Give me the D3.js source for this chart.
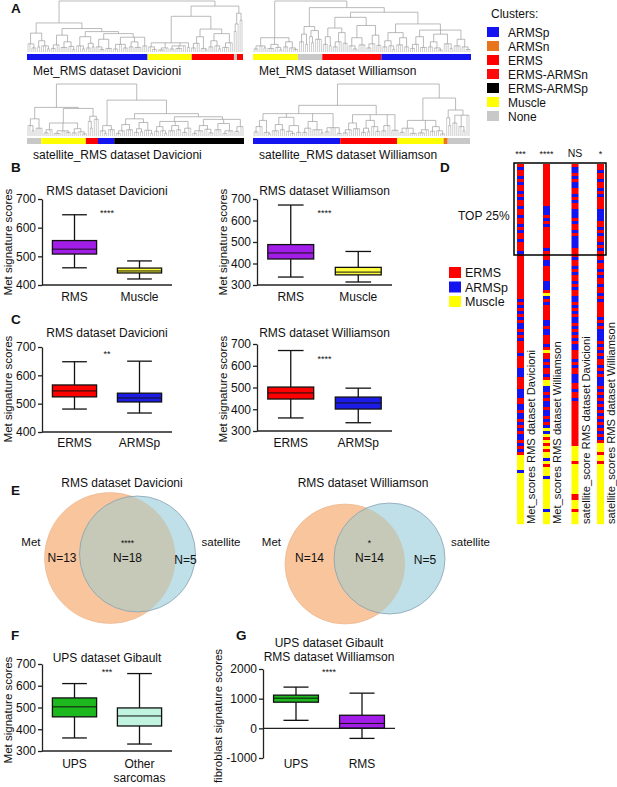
<!DOCTYPE html>
<html>
<head>
<meta charset="utf-8">
<script src="https://cdn.jsdelivr.net/npm/d3@7"></script>
<style>
  body { margin: 0; background: #fff; }
  svg { display: block; }
  text { font-family: "Liberation Sans", Arial, Helvetica, sans-serif; fill: #111; }
</style>
</head>
<body>
<svg id="fig" width="617" height="787"></svg>
<script>
// ---------- data ----------
const clusterNames = ["ARMSp", "ARMSn", "ERMS", "ERMS-ARMSn", "ERMS-ARMSp", "Muscle", "None"];
const clusterColors = ["#1414f0", "#e8741e", "#ff0000", "#ff0a0a", "#000000", "#ffff00", "#c8c8c8"];

// colour bars under the dendrograms: [cluster, number of samples]
const barMetDav = [["ARMSp", 60], ["Muscle", 22], ["ERMS", 21], ["None", 1.5], ["ERMS", 3]];
const barMetWil = [["Muscle", 22], ["None", 12], ["ERMS", 29], ["ARMSp", 44]];
const barSatDav = [["None", 7], ["Muscle", 22], ["ERMS", 6], ["ARMSp", 8], ["ERMS-ARMSp", 64]];
const barSatWil = [["ARMSp", 43], ["ERMS", 28], ["Muscle", 23], ["ARMSn", 2], ["None", 11]];

// dendrograms: [height, ...children]; a number child = that many leaves
const treeMetDav = [1.0,
  [0.57,
    [0.37, [0.16, 2, [0.08, 3]], [0.22, [0.1, 2], [0.12, 3, [0.06, 2]]]],
    [0.46,
      [0.33, [0.14, [0.07, 3], 2], [0.2, [0.09, 4], [0.11, 2, [0.05, 2]]]],
      [0.4,
        [0.3, [0.12, 3, [0.06, 2]], [0.17, [0.08, 3], [0.1, 2]]],
        [0.36,
          [0.25, [0.1, 2, [0.05, 3]], [0.13, [0.07, 4]]],
          [0.29, [0.15, [0.06, 3], 2, [0.08, 3]], [0.2, [0.1, 3], [0.09, 4]], [0.12, 3]]]]]],
  [0.9,
    [0.7,
      [0.18, [0.1, 2, [0.05, 3]], [0.08, [0.04, 4], 2], [0.12, [0.06, 3], [0.07, 4], 2], [0.09, 2]],
      [0.45,
        [0.3, [0.17, [0.08, 3], 2], [0.15, [0.07, 2, [0.04, 2]]]],
        [0.36, [0.22, [0.1, 3], [0.12, 2, [0.06, 2]]], [0.18, [0.09, 4], 2]]]],
    [0.76, [0.55, [0.4, 1, 1], 1], [0.62, 1, 1]]]];

const treeMetWil = [1.0,
  [0.28, [0.12, [0.06, 3], 2, [0.08, 2]], [0.15, [0.07, 4], [0.09, 2, [0.04, 2]]], [0.2, [0.1, 3], [0.08, 2, [0.05, 3]]]],
  [0.87,
    [0.5, [0.35, [0.2, 2, 1], [0.15, 2]], [0.42, [0.3, 1, [0.18, 2]], [0.25, 2, 2]]],
    [0.78,
      [0.68,
        [0.47, [0.3, [0.15, 3], [0.12, 2]], [0.38, [0.2, [0.1, 3], 2], [0.17, 3]]],
        [0.52, [0.28, [0.12, 2, [0.06, 3]], [0.14, 4]], [0.33, [0.16, [0.08, 3], 2], [0.13, 3]]]],
      [0.55,
        [0.38, [0.22, [0.1, 3], [0.12, 2, [0.05, 2]]], [0.28, [0.14, 4], [0.1, 3]]],
        [0.43,
          [0.3, [0.15, [0.07, 3], 2], [0.18, [0.09, 4]]],
          [0.35, [0.2, [0.1, 3], [0.08, 2, [0.04, 3]]], [0.16, 3, [0.07, 2]]],
          [0.25, [0.12, 4], [0.1, 2, [0.05, 3]]]]]]]];

const treeSatDav = [1.0,
  [0.55,
    [0.33, [0.2, 2, [0.1, 2]], [0.15, 3, 1]],
    [0.53,
      [0.25, [0.12, [0.06, 3], 2], [0.1, [0.05, 4], 2, [0.07, 3]], [0.14, [0.06, 3], [0.08, 2, [0.04, 3]]]],
      [0.38, [0.28, 1, [0.15, 2]], [0.32, 2, 1]]]],
  [0.69,
    [0.2, [0.1, 2, [0.05, 2]], [0.12, 3, 1]],
    [0.43,
      [0.33, [0.22, [0.1, [0.05, 3], 2], [0.12, 4]], [0.26, [0.14, [0.07, 3], [0.08, 2]], [0.11, 3, [0.05, 2]]]],
      [0.37,
        [0.28, [0.18, [0.09, 3], [0.1, 2, [0.05, 2]]], [0.2, [0.1, 4], [0.12, 3]], [0.15, [0.07, 3], 2]],
        [0.32, [0.2, [0.1, [0.05, 3], 3], [0.13, 2, [0.06, 3]]], [0.24, [0.12, 4], [0.1, [0.05, 3], 3]], [0.18, [0.09, 3], 2]]]]]];

const treeSatWil = [1.0,
  [0.59,
    [0.43,
      [0.3, [0.18, [0.08, 3], 2], [0.14, [0.07, 2, [0.04, 2]]]],
      [0.36, [0.22, [0.1, 4], [0.12, 3]], [0.2, [0.09, 2, [0.05, 3]], [0.07, 3]]],
      [0.28, [0.15, [0.07, 3], 2], [0.12, 4, [0.06, 2]]],
      [0.16, [0.08, 3], 3, [0.05, 3]]],
    [0.41, [0.25, [0.12, [0.06, 3], 2], [0.14, 4]], [0.3, [0.15, [0.07, 3], [0.08, 2]], [0.18, 2, [0.09, 3]]], [0.2, [0.1, 3], 2], [0.11, 2, 2]]],
  [0.73,
    [0.3, [0.15, [0.07, 3], 2, [0.05, 4]], [0.12, [0.06, 4], 2], [0.18, [0.09, 3], [0.1, 2, [0.04, 3]]]],
    [0.5, [0.35, 1, [0.2, 2]], [0.4, [0.25, 2, 1], [0.18, 2, [0.1, 2]], 2]]]];

// box plots: [min, q1, median, q3, max]
const catsB = ["RMS", "Muscle"];
const statsBDav = [[460, 508, 525, 555, 645], [421, 442, 449, 459, 484]];
const statsBWil = [[337, 421, 449, 488, 672], [314, 347, 360, 382, 456]];
const catsC = ["ERMS", "ARMSp"];
const statsCDav = [[481, 524, 545, 566, 648], [467, 506, 520, 537, 650]];
const statsCWil = [[360, 447, 475, 502, 670], [338, 401, 429, 456, 497]];
const catsF = ["UPS", "Other\nsarcomas"];
const statsF = [[360, 457, 503, 544, 610], [332, 415, 461, 498, 656]];
const catsG = ["UPS", "RMS"];
const statsG = [[270, 881, 1017, 1119, 1390], [-339, 10, 165, 441, 1186]];
const ticks400 = [400, 500, 600, 700];
const ticks300 = [300, 400, 500, 600, 700];
const ticksG = [-1000, 0, 1000, 2000];

// Venn: [Met only, both, satellite only]
const vennDav = [13, 18, 5];
const vennWil = [14, 14, 5];

// D: sample order by score, R = ERMS, B = ARMSp, Y = Muscle
const colMetDav = "RBRRBRBRRBRBRRBRRBRRBRBRRBRRRB" + "RRRRRRRRRRRRRRR" + "BRBRBRBRBB" + "RBRBRRRRBR" +
  "RRRBBBRRRRBBBRR" + "BBRBBRBRBRBBRBRBR" + "YYYYYBYYYYYYYYYYYYYYYYY";
const colMetWil = "RRRRRRRRRRRRRR" + "BBB" + "RBRBR" + "RRRRRR" + "BRRR" + "BBRRRRRBBBRY" + "BRBRRRRR" +
  "BBRBB" + "RRRBRYR" + "RBRBRRBRYY" + "BBRBRBBRBB" + "RBRBYBYRYR" + "YRYYBYRYYYBY" + "YYYYYYYYYBYYYY";
const colSatDav = "RBBRBRBBRRBRBRRBBBRBRRBRBBBBRR" + "RBRRBRBRRBRBRRB" + "BRBRBRBBRBRBRBRBBR" +
  "RRBRBRRBBBRRBRRB" + "RRRRRRRRRRRRRRR" + "YYYYYRYYYYYYYYYYRRYYYRYYYY";
const colSatWil = "RRBRRBRRBRBRRRRBBBBRRBRBRRBRBR" + "RRBRRBRBRRBRRBR" + "BRRRRRBRBRBBBBR" +
  "BRBRBRRBRBRBBBRBRBRB" + "RBRBRBRBRBRBR" + "YYYRYYRYYYYYYYYYYYYYYYYYYYY";
const colStars = ["***", "****", "NS", "*"];
const colLabels = ["Met_scores RMS dataset Davicioni", "Met_scores RMS dataset Williamson",
  "satellite_score RMS dataset Davicioni", "satellite_scores RMS dataset Williamson"];
const dNames = ["ERMS", "ARMSp", "Muscle"];
const dColors = {R: "#ff0000", B: "#1414f0", Y: "#ffff00"};

// ---------- drawing ----------
const svg = d3.select("#fig");
const ink = "#222";

function text(x, y, s, size, anchor, weight) {
  return svg.append("text").attr("x", x).attr("y", y).attr("font-size", size)
    .attr("text-anchor", anchor || "start").attr("font-weight", weight || "normal").text(s);
}
function vtext(x, y, s, size, anchor) {
  return svg.append("text").attr("transform", `translate(${x},${y}) rotate(-90)`)
    .attr("font-size", size).attr("text-anchor", anchor || "middle").text(s);
}

// panel letters
[["A", 11, 13], ["B", 11, 172], ["C", 11, 324], ["D", 440, 172], ["E", 11, 495], ["F", 11, 640], ["G", 236, 640]]
  .forEach(d => text(d[1], d[2], d[0], 13.5, "start", "bold"));

// A: dendrograms
function toNode(a) {
  const kids = [];
  a.slice(1).forEach(c => {
    if (typeof c === "number") for (let i = 0; i < c; i++) kids.push({h: 0});
    else kids.push(toNode(c));
  });
  return {h: a[0], children: kids};
}

function dendrogram(tree, bar, x0, x1, yTop, yBase, label) {
  const root = d3.hierarchy(toNode(tree));
  d3.cluster().size([x1 - x0, 1]).separation(() => 1)(root);
  const y = d3.scaleLinear().domain([0, 1]).range([yBase, yTop]);
  const g = svg.append("g").attr("transform", `translate(${x0},0)`);
  let inner = "", leaves = "";
  root.each(n => {
    if (!n.children) return;
    const xs = n.children.map(c => c.x);
    inner += `M${d3.min(xs)},${y(n.data.h)}H${d3.max(xs)}`;
    n.children.forEach(c => {
      const seg = `M${c.x},${y(n.data.h)}V${y(c.data.h)}`;
      if (c.children) inner += seg; else leaves += seg;
    });
  });
  g.append("path").attr("d", leaves).attr("fill", "none").attr("stroke", "#c2c2c2").attr("stroke-width", 0.8);
  g.append("path").attr("d", inner).attr("fill", "none").attr("stroke", "#9c9c9c").attr("stroke-width", 0.7);

  const total = d3.sum(bar, d => d[1]);
  const bx = d3.scaleLinear().domain([0, total]).range([x0, x1]);
  const col = d3.scaleOrdinal().domain(clusterNames).range(clusterColors);
  let acc = 0;
  bar.forEach(d => {
    svg.append("rect").attr("x", bx(acc)).attr("y", yBase + 2).attr("width", bx(acc + d[1]) - bx(acc))
      .attr("height", 6).attr("fill", col(d[0]));
    acc += d[1];
  });
  text(x0 + 6, yBase + 23, label, 12);
}

dendrogram(treeMetDav, barMetDav, 27, 243, 1, 52, "Met_RMS dataset Davicioni");
dendrogram(treeMetWil, barMetWil, 253, 471, 1, 52, "Met_RMS dataset Williamson");
dendrogram(treeSatDav, barSatDav, 27, 244, 84, 136, "satellite_RMS dataset Davicioni");
dendrogram(treeSatWil, barSatWil, 253, 470, 84, 136, "satellite_RMS dataset Williamson");

// cluster legend
text(491, 18, "Clusters:", 12);
clusterNames.forEach((n, i) => {
  svg.append("rect").attr("x", 487).attr("y", 27 + i * 14).attr("width", 12).attr("height", 10).attr("fill", clusterColors[i]);
  text(508, 36.5 + i * 14, n, 12);
});

// box plots
function boxChart(o) {
  const x = d3.scaleBand().domain(o.cats).range([o.x0, o.x1]);
  const y = d3.scaleLinear().domain(o.domain).range([o.yb, o.yt]);
  const ax = svg.append("g").attr("transform", `translate(${o.x0},0)`)
    .call(d3.axisLeft(y).tickValues(o.ticks).tickSize(4).tickSizeOuter(0).tickPadding(2).tickFormat(d => String(d)));
  ax.select(".domain").attr("stroke", ink).attr("stroke-width", 1.3);
  ax.selectAll(".tick line").attr("stroke", ink).attr("stroke-width", 1.3);
  ax.selectAll(".tick text").attr("font-size", 12).attr("font-family", null).attr("fill", "#111");
  const yx = o.zeroLine ? y(0) : o.yb;
  svg.append("line").attr("x1", o.x0).attr("x2", o.x1).attr("y1", yx).attr("y2", yx)
    .attr("stroke", ink).attr("stroke-width", 1.3);

  const bw = x.bandwidth();
  o.stats.forEach((s, i) => {
    const cx = x(o.cats[i]) + bw / 2, w = bw * 0.68, cw = bw * 0.38;
    const g = svg.append("g").attr("stroke", "#111").attr("stroke-width", 1.3);
    g.append("line").attr("x1", cx).attr("x2", cx).attr("y1", y(s[4])).attr("y2", y(s[3]));
    g.append("line").attr("x1", cx).attr("x2", cx).attr("y1", y(s[1])).attr("y2", y(s[0]));
    g.append("line").attr("x1", cx - cw / 2).attr("x2", cx + cw / 2).attr("y1", y(s[4])).attr("y2", y(s[4]));
    g.append("line").attr("x1", cx - cw / 2).attr("x2", cx + cw / 2).attr("y1", y(s[0])).attr("y2", y(s[0]));
    g.append("rect").attr("x", cx - w / 2).attr("y", y(s[3])).attr("width", w).attr("height", y(s[1]) - y(s[3]))
      .attr("fill", o.colors[i]);
    g.append("line").attr("x1", cx - w / 2).attr("x2", cx + w / 2).attr("y1", y(s[2])).attr("y2", y(s[2]))
      .attr("stroke-width", 1);
    o.cats[i].split("\n").forEach((t, k) => text(cx, o.labelY + k * 14, t, 12, "middle"));
  });
  o.title.forEach((t, k) => text((o.x0 + o.x1) / 2, o.titleY + k * 14, t, 12, "middle"));
  text((o.x0 + o.x1) / 2, o.starY, o.stars, 9, "middle");
  vtext(o.x0 - (o.ylabOff || 30), o.ylabY, o.ylab, 11.5);
}

const purple = "#a21ee8", yellow = "#ffff3c", red = "#ff0000", blue = "#1c1ce6", green = "#1db81d", aqua = "#c0f4e0";

boxChart({x0: 42, x1: 172, yt: 199, yb: 285, domain: [400, 700], ticks: ticks400, cats: catsB, stats: statsBDav,
  colors: [purple, yellow], title: ["RMS dataset Davicioni"], titleY: 195, stars: "****", starY: 216,
  labelY: 301, ylab: "Met signature scores", ylabY: 242});
boxChart({x0: 257, x1: 392, yt: 199, yb: 285, domain: [300, 700], ticks: ticks300, cats: catsB, stats: statsBWil,
  colors: [purple, yellow], title: ["RMS dataset Williamson"], titleY: 195, stars: "****", starY: 216,
  labelY: 301, ylab: "Met signature scores", ylabY: 242});
boxChart({x0: 42, x1: 172, yt: 347, yb: 432, domain: [400, 700], ticks: ticks400, cats: catsC, stats: statsCDav,
  colors: [red, blue], title: ["RMS dataset Davicioni"], titleY: 337, stars: "**", starY: 357,
  labelY: 447, ylab: "Met signature scores", ylabY: 389});
boxChart({x0: 257, x1: 392, yt: 344, yb: 431, domain: [300, 700], ticks: ticks300, cats: catsC, stats: statsCWil,
  colors: [red, blue], title: ["RMS dataset Williamson"], titleY: 337, stars: "****", starY: 362,
  labelY: 447, ylab: "Met signature scores", ylabY: 389});
boxChart({x0: 42, x1: 172, yt: 664, yb: 751, domain: [300, 700], ticks: ticks300, cats: catsF, stats: statsF,
  colors: [green, aqua], title: ["UPS dataset Gibault"], titleY: 662, stars: "***", starY: 675,
  labelY: 768, ylab: "Met signature scores", ylabY: 710});
boxChart({x0: 263, x1: 395, yt: 669, yb: 758, domain: [-1000, 2000], ticks: ticksG, cats: catsG, stats: statsG,
  colors: [green, purple], title: ["UPS dataset Gibault", "RMS dataset Williamson"], titleY: 647, stars: "****", starY: 675,
  labelY: 768, ylab: "fibroblast  signature scores", ylabY: 716, ylabOff: 41, zeroLine: true});

// E: Venn diagrams
const defs = svg.append("defs");
function venn(id, counts, stars, title, a, b, tx) {
  defs.append("clipPath").attr("id", id).append("circle").attr("cx", a[0]).attr("cy", a[1]).attr("r", a[2]);
  svg.append("circle").attr("cx", a[0]).attr("cy", a[1]).attr("r", a[2]).attr("fill", "#f9c59d")
    .attr("stroke", "#eab38a").attr("stroke-width", 0.6);
  svg.append("circle").attr("cx", b[0]).attr("cy", b[1]).attr("r", b[2]).attr("fill", "#bfdfe9");
  svg.append("circle").attr("cx", b[0]).attr("cy", b[1]).attr("r", b[2]).attr("fill", "#c6c8b8")
    .attr("clip-path", `url(#${id})`);
  svg.append("circle").attr("cx", b[0]).attr("cy", b[1]).attr("r", b[2]).attr("fill", "none")
    .attr("stroke", "#7e9aa8").attr("stroke-width", 0.7);
  text(tx, 487, title, 12, "middle");
  text(a[0] - a[2] - 4, 546, "Met", 11.5, "end");
  text(b[0] + b[2] + 6, 546, "satellite", 11.5, "start");
  const leftX = (a[0] - a[2] + b[0] - b[2]) / 2, midX = (b[0] - b[2] + a[0] + a[2]) / 2, rightX = (a[0] + a[2] + b[0] + b[2]) / 2;
  text(leftX, 562, "N=" + counts[0], 12, "middle");
  text(midX, 562, "N=" + counts[1], 12, "middle");
  text(rightX, 564, "N=" + counts[2], 12, "middle");
  text(midX, 546, stars, 8.5, "middle");
}
venn("clipDav", vennDav, "****", "RMS dataset Davicioni", [110, 558, 65.5], [137.5, 554, 58], 122);
venn("clipWil", vennWil, "*", "RMS dataset Williamson", [345, 564, 60], [389.5, 558.5, 55.5], 363);

// D: ranked columns
const cols = [colMetDav, colMetWil, colSatDav, colSatWil];
const colX = [517, 543, 571.5, 597];
cols.forEach((s, i) => {
  const y = d3.scaleLinear().domain([0, s.length]).range([164, 524]);
  let start = 0;
  for (let k = 1; k <= s.length; k++) {
    if (k === s.length || s[k] !== s[start]) {
      svg.append("rect").attr("x", colX[i]).attr("y", y(start)).attr("width", 7)
        .attr("height", y(k) - y(start) + 0.2).attr("fill", dColors[s[start]]);
      start = k;
    }
  }
  text(colX[i] + 3.5, 157, colStars[i], colStars[i] === "NS" ? 10.5 : 9, "middle");
  vtext(colX[i] + 18, 524, colLabels[i], 11.2, "start");
});
svg.append("rect").attr("x", 514).attr("y", 163).attr("width", 92).attr("height", 92)
  .attr("fill", "none").attr("stroke", "#000").attr("stroke-width", 1.5);
text(458, 220, "TOP 25%", 12);
dNames.forEach((n, i) => {
  svg.append("rect").attr("x", 449).attr("y", 267 + i * 14.5).attr("width", 12).attr("height", 11)
    .attr("fill", dColors["RBY"[i]]);
  text(465, 277 + i * 14.5, n, 12.5);
});
</script>
</body>
</html>
